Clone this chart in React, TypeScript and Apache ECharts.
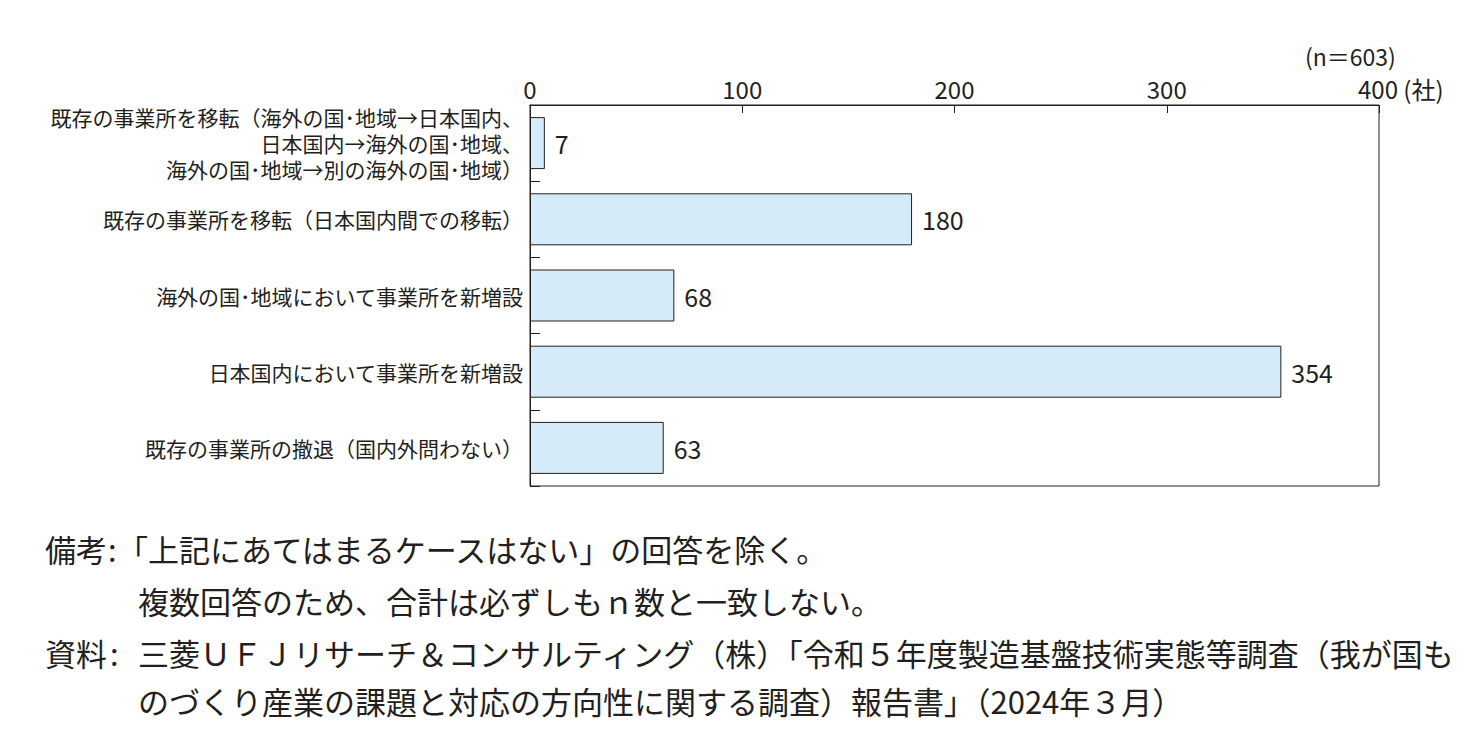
import React, { useEffect, useRef } from "react";
import * as echarts from "echarts";

const categories = [
  "既存の事業所を移転（海外の国･地域→日本国内、\n日本国内→海外の国･地域、\n海外の国･地域→別の海外の国･地域）",
  "既存の事業所を移転（日本国内間での移転）",
  "海外の国･地域において事業所を新増設",
  "日本国内において事業所を新増設",
  "既存の事業所の撤退（国内外問わない）",
];
const values = [7, 180, 68, 354, 63];
const axisTicks = [0, 100, 200, 300, 400];
const unitLabel = "(社)";
const sampleLabel = "(n＝603)";
const notes = [
  "「上記にあてはまるケースはない」の回答を除く。",
  "複数回答のため、合計は必ずしもｎ数と一致しない。",
];
const sources = [
  "三菱ＵＦＪリサーチ＆コンサルティング（株）「令和５年度製造基盤技術実態等調査（我が国も",
  "のづくり産業の課題と対応の方向性に関する調査）報告書」（2024年３月）",
];

const FONT = "'Noto Sans CJK JP', 'Noto Sans', sans-serif";
const INK = "#231f20";

export default function App() {
  const ref = useRef<HTMLDivElement>(null);
  useEffect(() => {
    if (!ref.current) return;
    const chart = echarts.init(ref.current, null, { renderer: "svg" });
    const maxTick = axisTicks[axisTicks.length - 1];
    const noteFont = `31px ${FONT}`;
    chart.setOption({
      animation: false,
      backgroundColor: "#fff",
      textStyle: { fontFamily: FONT, color: INK },
      grid: {
        left: 530,
        right: 104,
        top: 105,
        bottom: 246,
        containLabel: false,
        show: true,
        borderColor: INK,
        borderWidth: 1,
        backgroundColor: "transparent",
      },
      xAxis: {
        type: "value",
        position: "top",
        min: axisTicks[0],
        max: maxTick,
        interval: 100,
        axisLine: { show: true, lineStyle: { color: INK, width: 1 } },
        axisTick: { show: true, inside: true, length: 8, lineStyle: { color: INK } },
        splitLine: { show: false },
        axisLabel: {
          fontSize: 24,
          color: INK,
          margin: 5,
          fontFamily: FONT,
          formatter: (v: number) => (v === maxTick ? "" : `${v}`),
        },
      },
      yAxis: {
        type: "category",
        inverse: true,
        data: categories,
        axisLine: { show: true, lineStyle: { color: INK, width: 1 } },
        axisTick: { show: true, inside: true, length: 10, lineStyle: { color: INK } },
        axisLabel: {
          fontSize: 21,
          color: INK,
          margin: 7,
          lineHeight: 26,
          align: "right",
          fontFamily: FONT,
        },
      },
      series: [
        {
          type: "bar",
          data: values,
          barWidth: 52,
          itemStyle: { color: "#d6ebf9", borderColor: INK, borderWidth: 1 },
          label: {
            show: true,
            position: "right",
            distance: 10,
            fontSize: 25,
            color: INK,
            fontFamily: FONT,
          },
        },
      ],
      graphic: [
        {
          type: "text",
          x: 1358,
          y: 88,
          style: {
            text: `${maxTick} ${unitLabel}`,
            fill: INK,
            font: `24px ${FONT}`,
            verticalAlign: "middle",
          },
        },
        {
          type: "text",
          x: 1305,
          y: 56,
          style: { text: sampleLabel, fill: INK, font: `23px ${FONT}`, verticalAlign: "middle" },
        },
        {
          type: "text",
          x: 45,
          y: 548,
          style: { text: "備考", fill: INK, font: noteFont, verticalAlign: "middle" },
        },
        {
          type: "text",
          x: 108,
          y: 548,
          style: { text: ":", fill: INK, font: noteFont, verticalAlign: "middle" },
        },
        {
          type: "text",
          x: 117,
          y: 548,
          style: { text: notes[0], fill: INK, font: noteFont, verticalAlign: "middle" },
        },
        {
          type: "text",
          x: 138,
          y: 600,
          style: { text: notes[1], fill: INK, font: noteFont, verticalAlign: "middle" },
        },
        {
          type: "text",
          x: 45,
          y: 652,
          style: { text: "資料", fill: INK, font: noteFont, verticalAlign: "middle" },
        },
        {
          type: "text",
          x: 110,
          y: 652,
          style: { text: ":", fill: INK, font: noteFont, verticalAlign: "middle" },
        },
        {
          type: "text",
          x: 138,
          y: 652,
          style: { text: sources[0], fill: INK, font: noteFont, verticalAlign: "middle" },
        },
        {
          type: "text",
          x: 138,
          y: 700,
          style: { text: sources[1], fill: INK, font: noteFont, verticalAlign: "middle" },
        },
      ],
    });
    return () => chart.dispose();
  }, []);
  return (
    <div
      ref={ref}
      style={{ position: "fixed", left: 0, top: 0, width: 1483, height: 732, background: "#fff" }}
    />
  );
}
